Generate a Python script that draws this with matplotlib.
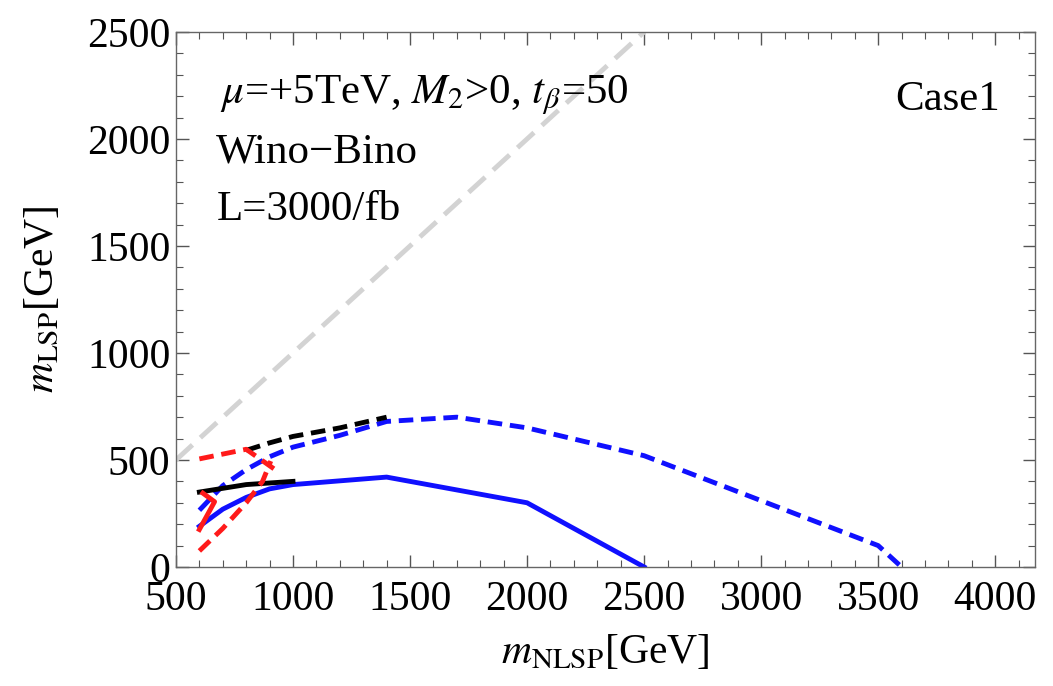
import matplotlib
matplotlib.use("Agg")
import matplotlib.pyplot as plt
from matplotlib.ticker import MultipleLocator

plt.rcParams['font.family'] = ['Liberation Serif', 'DejaVu Serif']
plt.rcParams['mathtext.fontset'] = 'stix'

# Data (m_NLSP [GeV], m_LSP [GeV])
diag_x = [500, 2500]
diag_y = [500, 2500]

blue_dash_x = [600, 700, 800, 900, 1000, 1200, 1400, 1700, 2000, 2500, 3500, 3600]
blue_dash_y = [265, 380, 455, 515, 560, 615, 680, 700, 650, 520, 100, 0]

blue_solid_x = [600, 700, 800, 900, 1000, 1400, 2000, 2500]
blue_solid_y = [190, 270, 325, 365, 385, 420, 300, 0]

black_dash_x = [800, 900, 1000, 1200, 1400]
black_dash_y = [545, 580, 610, 650, 700]

black_solid_x = [600, 800, 1000]
black_solid_y = [350, 385, 400]

red_dash_upper_x = [600, 800, 930]
red_dash_upper_y = [505, 550, 450]

red_dash_lower_x = [600, 700, 800, 870, 905]
red_dash_lower_y = [75, 180, 300, 400, 495]

red_solid_x = [600, 665, 615]
red_solid_y = [175, 305, 345]

fig = plt.figure(figsize=(10.53, 6.86), dpi=100)
ax = fig.add_axes([0.1671, 0.1735, 0.8158, 0.7799])

lw = 3.5
ax.plot(diag_x, diag_y, color='#d3d3d3', lw=lw, dashes=(4.6, 2.2))
ax.plot(blue_dash_x, blue_dash_y, color='#1010ff', lw=lw, dashes=(3.0, 1.6))
ax.plot(blue_solid_x, blue_solid_y, color='#1010ff', lw=lw)
ax.plot(black_dash_x, black_dash_y, color='black', lw=lw, dashes=(3.0, 1.6))
ax.plot(black_solid_x, black_solid_y, color='black', lw=lw)
ax.plot(red_dash_upper_x, red_dash_upper_y, color='#ff1a1a', lw=lw, dashes=(3.0, 1.6))
ax.plot(red_dash_lower_x, red_dash_lower_y, color='#ff1a1a', lw=lw, dashes=(3.0, 1.6))
ax.plot(red_solid_x, red_solid_y, color='#ff1a1a', lw=lw)

ax.set_xlim(500, 4170)
ax.set_ylim(0, 2500)

ax.xaxis.set_major_locator(MultipleLocator(500))
ax.xaxis.set_minor_locator(MultipleLocator(100))
ax.yaxis.set_major_locator(MultipleLocator(500))
ax.yaxis.set_minor_locator(MultipleLocator(100))
ax.tick_params(which='both', direction='in', top=True, right=True, color='#555555')
ax.tick_params(which='major', length=9, width=1.0, labelsize=30)
ax.tick_params(axis='x', which='major', pad=10)
ax.tick_params(axis='y', which='major', pad=4)
ax.tick_params(which='minor', length=5, width=0.8)
for s in ax.spines.values():
    s.set_color('#666666')
    s.set_linewidth(1.0)

ax.set_xlabel(r'$m_{\mathrm{NLSP}}$[GeV]', fontsize=30, labelpad=10)
ax.set_ylabel(r'$m_{\mathrm{LSP}}$[GeV]', fontsize=30, labelpad=18)

ax.text(0.051, 0.882, r'$\mu$=+5TeV, $M_2$>0, $t_\beta$=50', transform=ax.transAxes,
        fontsize=31, va='center', ha='left')
ax.text(0.047, 0.776, 'Wino\u2212Bino', transform=ax.transAxes,
        fontsize=31, va='center', ha='left')
ax.text(0.047, 0.667, 'L=3000/fb', transform=ax.transAxes,
        fontsize=31, va='center', ha='left')
ax.text(0.959, 0.873, 'Case1', transform=ax.transAxes,
        fontsize=31, va='center', ha='right')

fig.savefig('out.png', dpi=100)
